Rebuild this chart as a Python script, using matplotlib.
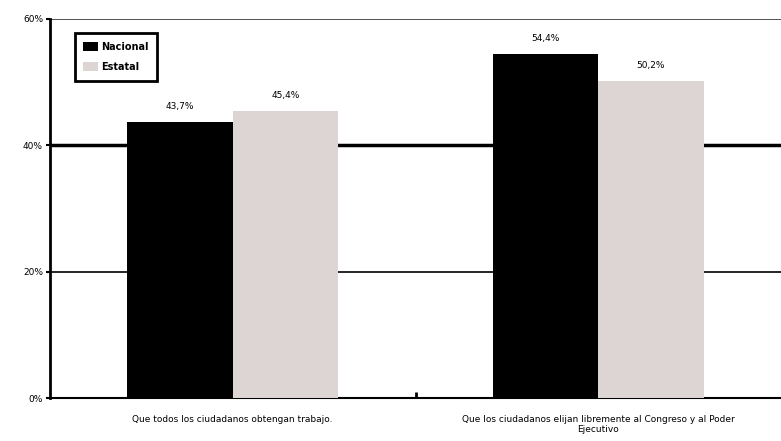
import matplotlib.pyplot as plt
import numpy as np

categories = ['Que todos los ciudadanos obtengan trabajo.',
              'Que los ciudadanos elijan libremente al Congreso y al Poder\nEjecutivo']
series_names = ['Nacional', 'Estatal']
nacional = [43.7, 54.4]
estatal = [45.4, 50.2]
yticks = [0, 20, 40, 60]
ytick_labels = ['0%', '20%', '40%', '60%']


def main():
    fig = plt.figure(figsize=(7.81, 4.41), dpi=100)
    ax = fig.add_axes([50 / 781, 1 - 398 / 441, 731 / 781, 379 / 441])

    x = np.arange(len(categories))
    w = 0.288
    b1 = ax.bar(x - w / 2, nacional, w, color='black', label=series_names[0], zorder=3)
    b2 = ax.bar(x + w / 2, estatal, w, color='#dcd5d3', label=series_names[1], zorder=3)

    for bars, vals in ((b1, nacional), (b2, estatal)):
        for r, v in zip(bars, vals):
            ax.text(r.get_x() + r.get_width() / 2, v + 1.8,
                    ('%.1f%%' % v).replace('.', ','),
                    ha='center', va='bottom', fontsize=6.5)

    ax.set_xlim(-0.5, 1.5)
    ax.set_ylim(0, 60)
    ax.set_yticks(yticks)
    ax.set_yticklabels(ytick_labels, fontsize=6.5)
    ax.set_xticks(x)
    ax.set_xticklabels(categories, fontsize=6.5)
    ax.tick_params(axis='x', length=0, pad=12)
    ax.tick_params(axis='y', length=3, width=1.5, pad=2)
    ax.set_xticks([0.5], minor=True)
    ax.tick_params(axis='x', which='minor', length=4, width=2, direction='in')

    # gridlines
    ax.axhline(20, color='black', lw=1.2, zorder=1)
    ax.axhline(40, color='black', lw=2.5, zorder=1)
    ax.axhline(60, color='#333333', lw=1.2, zorder=1)

    for s in ['top', 'right']:
        ax.spines[s].set_visible(False)
    ax.spines['left'].set_linewidth(2)
    ax.spines['bottom'].set_linewidth(1.5)

    leg = ax.legend(loc='upper left', bbox_to_anchor=(0.027, 0.975),
                    prop={'size': 7, 'weight': 'bold'},
                    frameon=True, fancybox=False, edgecolor='black', framealpha=1,
                    handlelength=1.5, handleheight=1.0, borderpad=0.9,
                    labelspacing=1.0, handletextpad=0.3)
    leg.get_frame().set_linewidth(2)

    fig.savefig('out.png', dpi=100)


if __name__ == '__main__':
    main()
